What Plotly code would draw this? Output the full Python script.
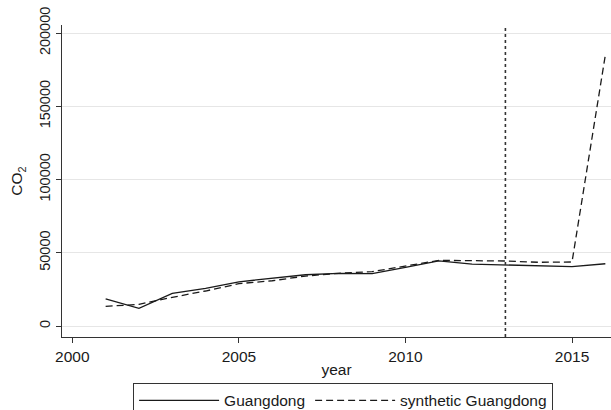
import plotly.graph_objects as go

years = list(range(2001, 2017))
guangdong = [18600, 12100, 22300, 25700, 30200, 32500, 35000, 36000, 35700,
             40100, 44500, 42300, 41600, 41200, 40500, 42500]
synthetic = [13400, 14800, 19600, 23900, 28900, 30900, 34100, 36000, 37100,
             41000, 44800, 44600, 44400, 43500, 43700, 185000]
treatment_year = 2013
x_ticks = [2000, 2005, 2010, 2015]
y_ticks = [0, 50000, 100000, 150000, 200000]
y_tick_labels = ["0", "50000", "100000", "150000", "200000"]

FONT = "Liberation Sans, Arial, sans-serif"

fig = go.Figure()
fig.add_trace(go.Scatter(x=years, y=guangdong, mode="lines", name="Guangdong",
                         line=dict(color="#1a1a1a", width=1.3)))
fig.add_trace(go.Scatter(x=years, y=synthetic, mode="lines", name="synthetic Guangdong",
                         line=dict(color="#1a1a1a", width=1.3, dash="7px,4px")))

fig.add_shape(type="line", x0=treatment_year, x1=treatment_year, xref="x",
              y0=0, y1=1, yref="paper",
              line=dict(color="#333333", width=1.6, dash="dot"))

fig.update_layout(
    width=611, height=410,
    margin=dict(l=62, r=0, t=25, b=73, autoexpand=False),
    paper_bgcolor="white", plot_bgcolor="white",
    font=dict(family=FONT, size=15.5, color="#1a1a1a"),
    showlegend=True,
    legend=dict(orientation="h", x=0.512, xanchor="center", y=-0.147, yanchor="top",
                bordercolor="#333333", borderwidth=1, bgcolor="white",
                font=dict(size=15.5), itemwidth=80, tracegroupgap=0),
    xaxis=dict(range=[1999.69, 2016.17], tickvals=x_ticks, ticks="outside",
               ticklen=5, tickcolor="#333333", showgrid=False, zeroline=False,
               showline=True, linecolor="#333333", linewidth=1, automargin=False,
               tickfont=dict(size=15.5),
               title=dict(text="year", standoff=0, font=dict(size=15.5))),
    yaxis=dict(range=[-7500, 205500], tickvals=y_ticks, ticktext=y_tick_labels,
               ticks="outside", ticklen=5, tickcolor="#333333", tickangle=-90,
               tickfont=dict(size=14.5),
               showgrid=True, gridcolor="#e6e6e6", gridwidth=1, zeroline=False,
               showline=True, linecolor="#333333", linewidth=1, automargin=False,
               title=dict(text="CO<sub>2</sub>", standoff=10, font=dict(size=15.5))),
)

fig.write_html("out.html", config={"displayModeBar": False},
               post_script="document.body.style.margin='0';")
